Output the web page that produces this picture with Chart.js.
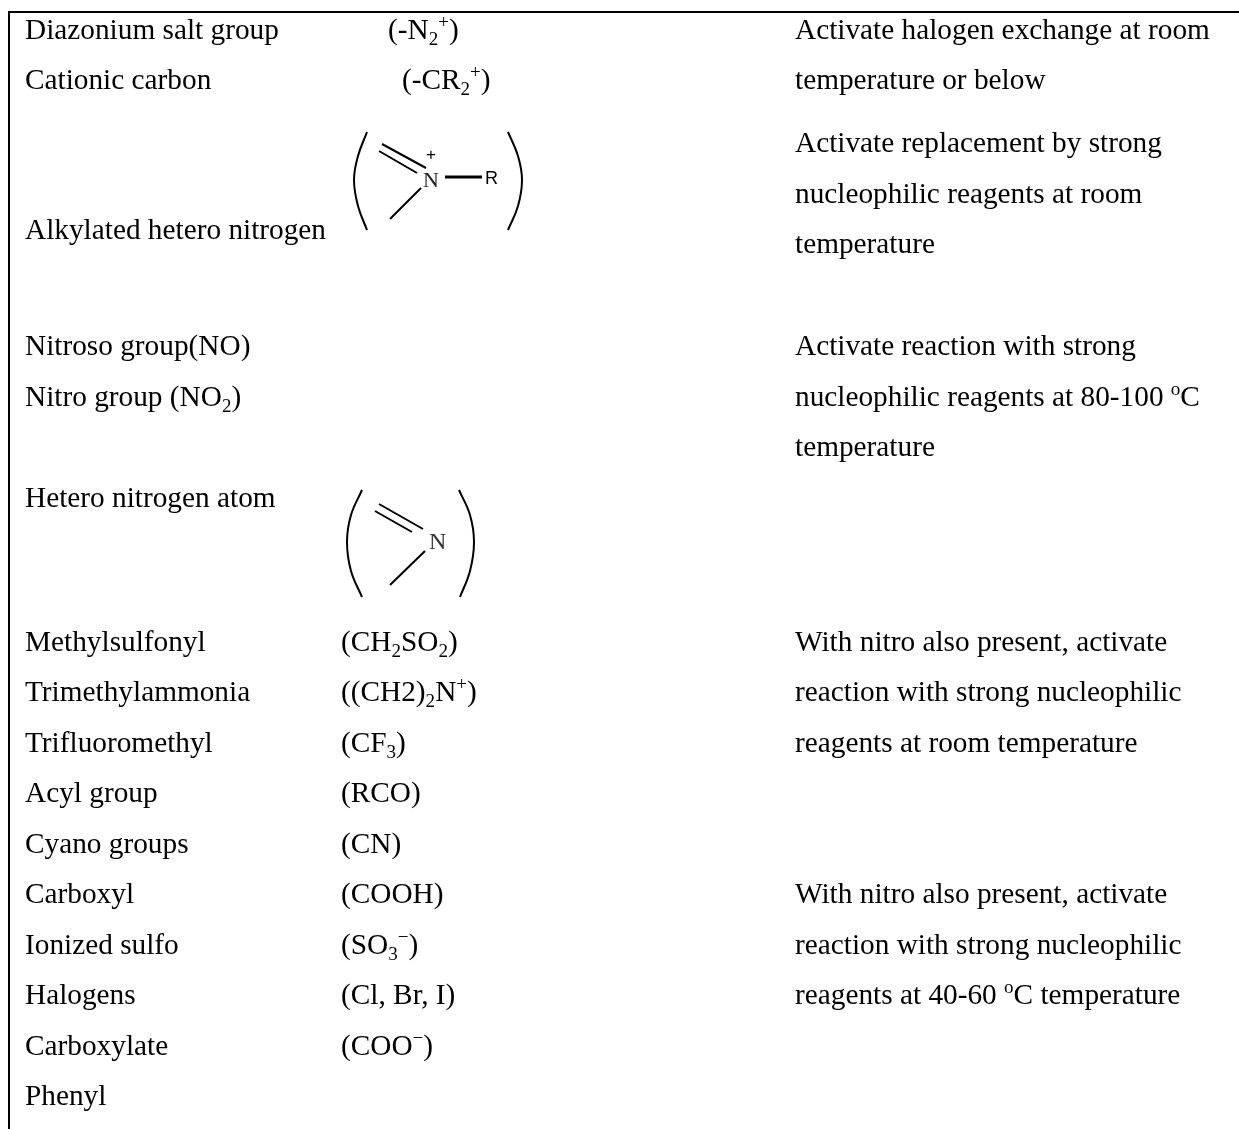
<!DOCTYPE html>
<html>
<head>
<meta charset="utf-8">
<title>Activating groups</title>
<script src="https://cdn.jsdelivr.net/npm/chart.js@4/dist/chart.umd.min.js"></script>
<style>
  html, body { margin: 0; padding: 0; background: #fff; overflow: hidden; }
  canvas { display: block; }
</style>
</head>
<body>
<canvas id="table" width="1239" height="1129"></canvas>
<script>
// _x is a subscript, ^x is a superscript
const groupNames = ["Diazonium salt group", "Cationic carbon", "Alkylated hetero nitrogen", "Nitroso group(NO)", "Nitro group (NO_2)", "Hetero nitrogen atom", "Methylsulfonyl", "Trimethylammonia", "Trifluoromethyl", "Acyl group", "Cyano groups", "Carboxyl", "Ionized sulfo", "Halogens", "Carboxylate", "Phenyl"];
const groupRows  = [39, 89, 239, 355, 406, 507, 651, 701, 752, 802, 853, 903, 954, 1004, 1055, 1105];

const formulas    = ["(-N_2^+)", "(-CR_2^+)", "(CH_2SO_2)", "((CH2)_2N^+)", "(CF_3)", "(RCO)", "(CN)", "(COOH)", "(SO_3^−)", "(Cl, Br, I)", "(COO^−)"];
const formulaCols = [388, 402, 341, 341, 341, 341, 341, 341, 341, 341, 341];
const formulaRows = [39, 89, 651, 701, 752, 802, 853, 903, 954, 1004, 1055];

const notes = [
  "Activate halogen exchange at room", "temperature or below",
  "Activate replacement by strong", "nucleophilic reagents at room", "temperature",
  "Activate reaction with strong", "nucleophilic reagents at 80-100 ^oC", "temperature",
  "With nitro also present, activate", "reaction with strong nucleophilic", "reagents at room temperature",
  "With nitro also present, activate", "reaction with strong nucleophilic", "reagents at 40-60 ^oC temperature"
];
const noteRows = [39, 89, 152, 203, 253, 355, 406, 456, 651, 701, 752, 903, 954, 1004];

// drawn structures
const atomNames = ["N", "+", "R", "N"];
const atomCols  = [423, 426, 485, 429];
const atomRows  = [187, 160, 184, 549];

const frameLine = [[1239, 12], [9, 12], [9, 1129]];

const alkylBonds = [
  [[382, 144], [426, 168]],
  [[379, 151], [417, 173]],
  [[421, 188], [390, 219]]
];
const alkylTail = [[445, 177], [482, 177]];
const alkylParens = [
  [[367, 132], [358, 156], [354, 180], [358, 206], [367, 230]],
  [[508, 132], [518, 156], [522, 180], [518, 206], [508, 230]]
];

const heteroBonds = [
  [[379, 504], [423, 529]],
  [[375, 511], [412, 532]],
  [[425, 551], [390, 585]]
];
const heteroParens = [
  [[362, 490], [351, 515], [347, 542], [351, 571], [362, 597]],
  [[459, 490], [470, 515], [474, 542], [470, 571], [460, 597]]
];

const serif = "'Liberation Serif', 'Times New Roman', serif";
const sans  = "'Liberation Sans', Arial, sans-serif";
const BODY_SIZE = 29.3;

function toPoints(line) {
  return line.map(p => ({ x: p[0], y: p[1] }));
}

function lineSet(line, width, tension) {
  return {
    data: toPoints(line),
    showLine: true,
    borderColor: "#000",
    borderWidth: width,
    tension: tension,
    pointRadius: 0,
    clip: false
  };
}

function textSet(labels, cols, rows, font) {
  return {
    data: rows.map((y, i) => ({ x: Array.isArray(cols) ? cols[i] : cols, y: y })),
    textLabels: labels,
    textFont: font,
    showLine: false,
    pointRadius: 0
  };
}

// split "a_2^+" into plain, sub and sup runs
function splitRuns(str) {
  const runs = [];
  let plain = "";
  for (let i = 0; i < str.length; i++) {
    if ((str[i] === "_" || str[i] === "^") && i + 1 < str.length) {
      if (plain) runs.push({ text: plain, kind: "" });
      plain = "";
      runs.push({ text: str[i + 1], kind: str[i] });
      i++;
    } else {
      plain += str[i];
    }
  }
  if (plain) runs.push({ text: plain, kind: "" });
  return runs;
}

const tableText = {
  id: "tableText",
  afterDatasetsDraw(chart) {
    const ctx = chart.ctx;
    ctx.save();
    ctx.textBaseline = "alphabetic";
    ctx.textAlign = "left";
    chart.data.datasets.forEach((ds, d) => {
      if (!ds.textLabels) return;
      const f = ds.textFont;
      chart.getDatasetMeta(d).data.forEach((el, i) => {
        let x = el.x;
        const color = Array.isArray(f.color) ? f.color[i] : f.color;
        const size = Array.isArray(f.size) ? f.size[i] : f.size;
        const family = Array.isArray(f.family) ? f.family[i] : f.family;
        ctx.fillStyle = color;
        splitRuns(ds.textLabels[i]).forEach(run => {
          const small = run.kind !== "";
          ctx.font = `${small ? size * 0.65 : size}px ${family}`;
          const shift = run.kind === "_" ? 6 : run.kind === "^" ? -11 : 0;
          ctx.fillText(run.text, x, el.y + shift);
          x += ctx.measureText(run.text).width;
        });
      });
    });
    ctx.restore();
  }
};

const bodyFont = { size: BODY_SIZE, family: serif, color: "#000" };
const atomFont = {
  size: [22, 17, 18, 24],
  family: [serif, sans, sans, serif],
  color: ["#222", "#000", "#000", "#333"]
};

new Chart(document.getElementById("table"), {
  type: "scatter",
  data: {
    datasets: [
      lineSet(frameLine, 2, 0),
      ...alkylBonds.map(b => lineSet(b, 2, 0)),
      lineSet(alkylTail, 3, 0),
      ...alkylParens.map(p => lineSet(p, 2, 0.4)),
      ...heteroBonds.map(b => lineSet(b, 2, 0)),
      ...heteroParens.map(p => lineSet(p, 2, 0.4)),
      textSet(groupNames, 25, groupRows, bodyFont),
      textSet(formulas, formulaCols, formulaRows, bodyFont),
      textSet(notes, 795, noteRows, bodyFont),
      textSet(atomNames, atomCols, atomRows, atomFont)
    ]
  },
  options: {
    responsive: false,
    animation: false,
    layout: { padding: 0 },
    plugins: { legend: { display: false }, tooltip: { enabled: false } },
    scales: {
      x: { type: "linear", display: false, min: 0, max: 1239 },
      y: { type: "linear", display: false, min: 0, max: 1129, reverse: true }
    }
  },
  plugins: [tableText]
});
</script>
</body>
</html>
